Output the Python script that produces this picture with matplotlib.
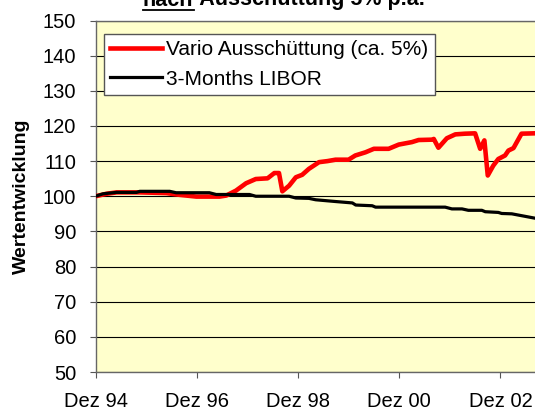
import matplotlib
matplotlib.use("Agg")
import matplotlib.pyplot as plt
from matplotlib.lines import Line2D

plt.rcParams['font.family'] = ['Liberation Sans', 'DejaVu Sans']

# months since Dez 94
vario_x = [0, 2.6, 5, 10.5, 16.8, 19.9, 23.9, 29.4, 31, 33.3, 35.7, 38, 40.8, 42.4, 43.5, 44.3,
           45.9, 47.5, 49, 50.6, 53, 55, 56.9, 60, 61.6, 64, 66, 69.5, 71.9, 75, 76.6, 79.8,
           80.2, 81.3, 83.3, 85.3, 87.6, 90, 91.2, 92.2, 93, 94.3, 95.5, 97.1, 97.9, 99.1,
           101, 104]
vario_y = [100, 100.7, 101.1, 101.1, 100.9, 100.4, 99.9, 99.9, 100.2, 101.6, 103.7, 104.9, 105.1,
           106.6, 106.6, 101.4, 103, 105.4, 106.1, 107.8, 109.7, 110, 110.4, 110.4, 111.6, 112.5,
           113.5, 113.5, 114.7, 115.4, 116, 116.1, 116.3, 113.8, 116.5, 117.6, 117.8, 117.9,
           113.5, 115.9, 105.9, 108.7, 110.6, 111.6, 113, 113.7, 117.8, 117.9]

libor_x = [0, 1.8, 5, 9.7, 10.5, 17.6, 19.1, 27, 28.6, 36.5, 38, 45.9, 47.5, 50.6, 52.2, 56.9,
           60.9, 61.7, 65.6, 66.4, 82.9, 84.5, 86.9, 88.4, 91.6, 92.4, 95.5, 96.3, 98.7, 104]
libor_y = [100, 100.7, 101.1, 101.1, 101.4, 101.4, 101, 101, 100.5, 100.5, 100, 100, 99.5, 99.4,
           99, 98.5, 98.1, 97.5, 97.3, 96.9, 96.9, 96.4, 96.4, 96, 96, 95.6, 95.4, 95.1, 95, 93.8]

xtick_pos = [0, 24, 48, 72, 96]
xtick_labels = ["Dez 94", "Dez 96", "Dez 98", "Dez 00", "Dez 02"]
yticks = list(range(50, 151, 10))

fig = plt.figure(figsize=(5.35, 4.12), dpi=100)
ax = fig.add_axes([95.5 / 535, 40 / 412, (535 - 95.5) / 535, (372 - 20.5) / 412])
ax.set_facecolor('#FFFFCC')

ax.plot(vario_x, vario_y, color='#FF0000', lw=3.3, solid_joinstyle='round', zorder=3,
        label='Vario Ausschüttung (ca. 5%)')
ax.plot(libor_x, libor_y, color='black', lw=2.3, zorder=4, label='3-Months LIBOR')

ax.set_xlim(0, 104.2)
ax.set_ylim(50, 150)
ax.set_yticks(yticks)
ax.set_xticks(xtick_pos)
ax.set_xticklabels(xtick_labels)
ax.yaxis.grid(True, color='black', lw=0.8)
ax.set_axisbelow(True)
ax.tick_params(axis='both', labelsize=14.5, direction='out', length=4.5, width=0.8, color='#555555')
ax.tick_params(axis='y', pad=9.5)
ax.tick_params(axis='x', pad=10)
for s in ['left', 'bottom', 'top']:
    ax.spines[s].set_color('#666666')
    ax.spines[s].set_linewidth(1)
ax.spines['right'].set_visible(False)

ax.set_ylabel('Wertentwicklung', fontsize=14, fontweight='bold', labelpad=9)

leg = ax.legend(loc='upper left', bbox_to_anchor=(8.5 / 439.5, (351.5 - 13.5) / 351.5),
                fontsize=15, frameon=True, fancybox=False, handlelength=2.5,
                handletextpad=0.2, borderpad=0.3, labelspacing=0.5, borderaxespad=0)
leg.get_frame().set_edgecolor('#555555')
leg.get_frame().set_linewidth(1)
leg.get_frame().set_facecolor('white')
leg.get_frame().set_alpha(1)

# Title (cropped at top, as in the reference)
ty = 1 - 5.5 / 412
t1 = fig.text(143 / 535, ty, 'nach', fontsize=15.5, fontweight='bold', ha='left', va='baseline')
fig.canvas.draw()
r = fig.canvas.get_renderer()
bb = t1.get_window_extent(r)
x_end = bb.x1 / fig.bbox.width
fig.text(x_end, ty, ' Ausschüttung 5% p.a.', fontsize=15.5, fontweight='bold',
         ha='left', va='baseline')
fig.add_artist(Line2D([bb.x0 / fig.bbox.width, x_end], [1 - 9.5 / 412, 1 - 9.5 / 412],
                      color='black', lw=1.3, transform=fig.transFigure))

fig.savefig('out.png', dpi=100)
